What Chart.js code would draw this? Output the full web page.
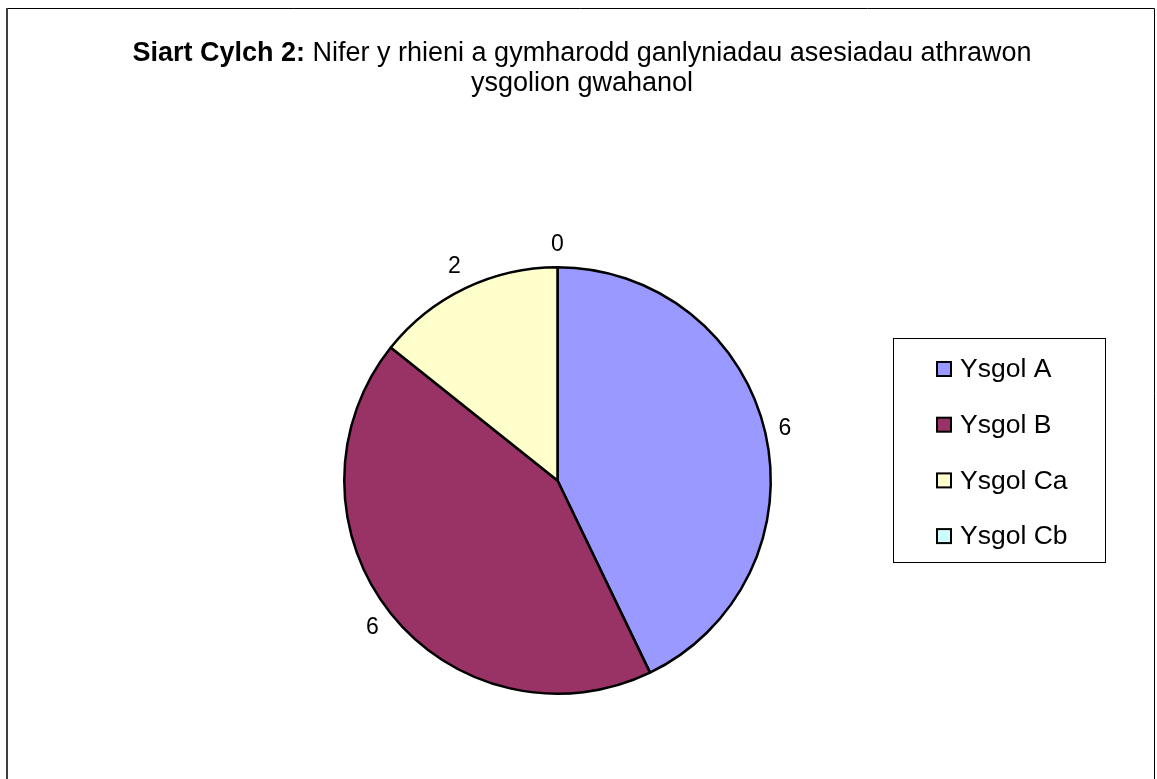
<!DOCTYPE html>
<html>
<head>
<meta charset="utf-8">
<script src="https://cdn.jsdelivr.net/npm/chart.js@4.4.1/dist/chart.umd.min.js"></script>
<style>
  html, body { margin: 0; padding: 0; background: #fff; }
  #wrap { width: 1157px; height: 779px; }
</style>
</head>
<body>
<div id="wrap"><canvas id="pieChart" width="1157" height="779"></canvas></div>
<script>
const titleBold = 'Siart Cylch 2:';
const titleLines = [' Nifer y rhieni a gymharodd ganlyniadau asesiadau athrawon', 'ysgolion gwahanol'];
const schools = ['Ysgol A', 'Ysgol B', 'Ysgol Ca', 'Ysgol Cb'];
const parentCounts = [6, 6, 2, 0];
const sliceColours = ['#9999FF', '#993366', '#FFFFCC', '#CCFFFF'];

const FONT = '"Liberation Sans", Arial, sans-serif';

// ffram a teitl
const framePlugin = {
    id: 'frame',
    beforeDraw(chart) {
        const ctx = chart.ctx;
        ctx.save();
        ctx.fillStyle = '#fff';
        ctx.fillRect(0, 0, chart.width, chart.height);
        ctx.strokeStyle = '#000';
        ctx.lineWidth = 1;
        ctx.beginPath();
        ctx.moveTo(6, 8.5);
        ctx.lineTo(1154.5, 8.5);
        ctx.lineTo(1154.5, chart.height);
        ctx.stroke();
        ctx.strokeStyle = '#404040';
        ctx.lineWidth = 2;
        ctx.beginPath();
        ctx.moveTo(7, 8);
        ctx.lineTo(7, chart.height);
        ctx.stroke();

        // teitl: rhan drwm + rhan arferol
        const cx = 582;
        ctx.fillStyle = '#000';
        ctx.textBaseline = 'middle';
        ctx.font = 'bold 27px ' + FONT;
        const wBold = ctx.measureText(titleBold).width;
        ctx.font = '27px ' + FONT;
        const wRest = ctx.measureText(titleLines[0]).width;
        let x = cx - (wBold + wRest) / 2;
        ctx.textAlign = 'left';
        ctx.font = 'bold 27px ' + FONT;
        ctx.fillText(titleBold, x, 54);
        ctx.font = '27px ' + FONT;
        ctx.fillText(titleLines[0], x + wBold, 54);
        ctx.textAlign = 'center';
        ctx.fillText(titleLines[1], cx, 84);
        ctx.restore();
    }
};

// labeli gwerth y tu allan i'r cylch
const valueLabels = {
    id: 'valueLabels',
    afterDatasetsDraw(chart) {
        const ctx = chart.ctx;
        const meta = chart.getDatasetMeta(0);
        ctx.save();
        ctx.font = '23px ' + FONT;
        ctx.fillStyle = '#000';
        ctx.textAlign = 'center';
        ctx.textBaseline = 'middle';
        meta.data.forEach((arc, i) => {
            const p = arc.getProps(['x', 'y', 'startAngle', 'endAngle', 'outerRadius'], true);
            const mid = (p.startAngle + p.endAngle) / 2;
            const txt = String(chart.data.datasets[0].data[i]);
            const w = ctx.measureText(txt).width;
            const h = 24;
            const c = Math.cos(mid), s = Math.sin(mid);
            const off = 11 + Math.abs(c) * w / 2 + Math.abs(s) * h / 2;
            const r = p.outerRadius + off;
            ctx.fillText(txt, p.x + c * r, p.y + s * r);
        });
        ctx.restore();
    }
};

// allwedd gyda ffram
const boxLegend = {
    id: 'boxLegend',
    afterDraw(chart) {
        const ctx = chart.ctx;
        const ds = chart.data.datasets[0];
        ctx.save();
        ctx.strokeStyle = '#000';
        ctx.lineWidth = 1;
        ctx.strokeRect(893.5, 338.5, 212, 224);
        ctx.font = '26.5px ' + FONT;
        ctx.textAlign = 'left';
        ctx.textBaseline = 'middle';
        chart.data.labels.forEach((lab, i) => {
            const y = 369 + i * 55.7;
            ctx.fillStyle = ds.backgroundColor[i];
            ctx.fillRect(937, y - 7, 14, 14);
            ctx.strokeStyle = '#000';
            ctx.lineWidth = 2;
            ctx.strokeRect(937, y - 7, 14, 14);
            ctx.fillStyle = '#000';
            ctx.fillText(lab, 960, y + 1);
        });
        ctx.restore();
    }
};

new Chart(document.getElementById('pieChart').getContext('2d'), {
    type: 'pie',
    data: {
        labels: schools,
        datasets: [{
            data: parentCounts,
            backgroundColor: sliceColours,
            borderColor: '#000',
            borderWidth: 2.5
        }]
    },
    options: {
        responsive: false,
        animation: false,
        layout: { padding: { left: 343, right: 385, top: 266, bottom: 84 } },
        plugins: {
            legend: { display: false },
            title: { display: false },
            tooltip: { enabled: false }
        }
    },
    plugins: [framePlugin, valueLabels, boxLegend]
});
</script>
</body>
</html>
